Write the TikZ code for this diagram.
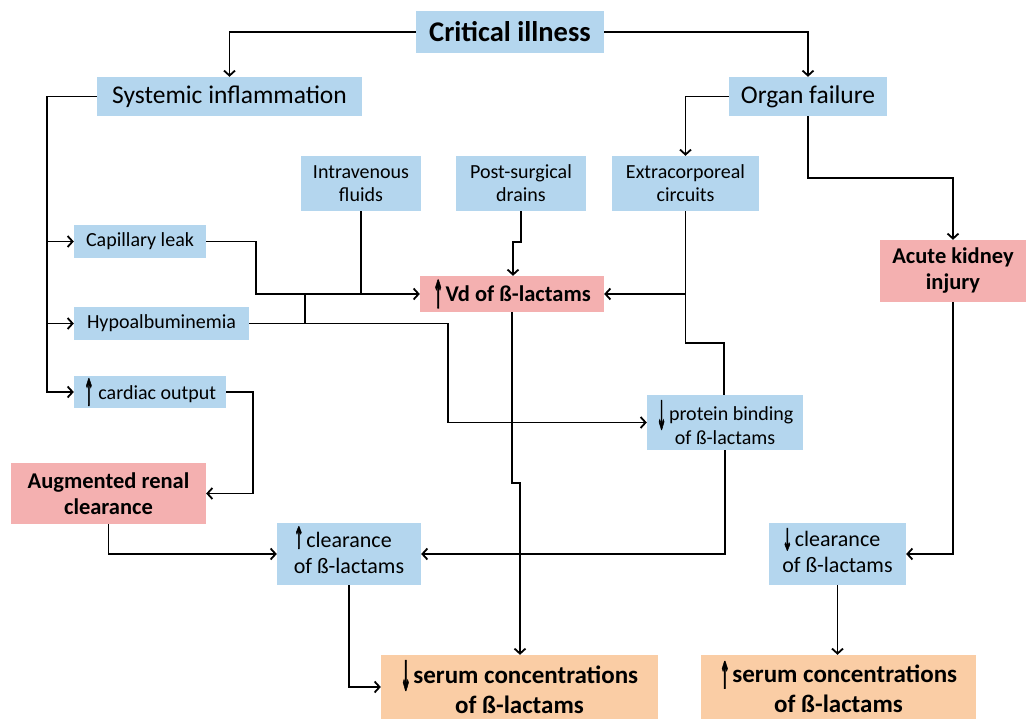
\documentclass[tikz,border=0pt]{standalone}
\usepackage{fontspec}
\usepackage{graphicx}
\setmainfont{Carlito}
\newfontfamily\symfont[FakeBold=3]{DejaVu Sans}
\usetikzlibrary{arrows.meta}
\definecolor{bblue}{RGB}{180,214,238}
\definecolor{bpink}{RGB}{244,176,176}
\definecolor{bpeach}{RGB}{250,205,165}
% vertical arrow glyph: {glyph}{total height}{depth}
\newcommand{\vglyph}[3]{\raisebox{-#3}{\resizebox*{10pt}{#2}{\symfont #1}}\hspace{2.5pt}}
\begin{document}
\begin{tikzpicture}[x=1pt,y=-1pt,
  boxbase/.style={inner sep=0pt, align=center, text=black},
  bl/.style={boxbase, fill=bblue},
  pk/.style={boxbase, fill=bpink},
  pc/.style={boxbase, fill=bpeach},
  fsmall/.style={font=\fontsize{20}{23}\selectfont},
  fmid/.style={font=\fontsize{22}{26}\selectfont},
  fbig/.style={font=\fontsize{25.5}{30}\selectfont},
  fbmid/.style={font=\bfseries\fontsize{22.5}{26}\selectfont},
  fbbig/.style={font=\bfseries\fontsize{25}{30}\selectfont},
  conn/.style={line width=1.8pt},
  arr/.style={conn, -{Straight Barb[length=5pt,width=11pt]}}
]
\useasboundingbox (0,0) rectangle (1029,719);
% nodes
\node[bl, font=\bfseries\fontsize{28.5}{32}\selectfont, minimum width=188pt, minimum height=42pt] (crit) at (510,32) {Critical illness};
\node[bl, fbig, minimum width=265pt, minimum height=39pt] (sys) at (229.5,96.5) {Systemic inflammation};
\node[bl, fbig, minimum width=158pt, minimum height=39pt] (org) at (808,96.5) {Organ failure};
\node[bl, fsmall, minimum width=120pt, minimum height=55pt] (iv) at (361,183.5) {Intravenous\\fluids};
\node[bl, fsmall, minimum width=130pt, minimum height=55pt] (psd) at (521,183.5) {Post-surgical\\drains};
\node[bl, fsmall, minimum width=147pt, minimum height=55pt] (ecc) at (685.5,183.5) {Extracorporeal\\circuits};
\node[pk, fbmid, minimum width=146pt, minimum height=62pt] (aki) at (953,271) {Acute kidney\\injury};
\node[bl, fsmall, minimum width=132pt, minimum height=33pt] (cap) at (140,241.5) {Capillary leak};
\node[bl, fsmall, minimum width=175pt, minimum height=33pt] (hypo) at (161.5,323.5) {Hypoalbuminemia};
\node[bl, fsmall, minimum width=152pt, minimum height=32pt] (co) at (150,392) {\vglyph{↑}{27pt}{6pt}\hspace{2pt}cardiac output};
\node[pk, fbmid, minimum width=184pt, minimum height=36pt] (vd) at (512,294) {\vglyph{↑}{28pt}{6pt}Vd of ß-lactams};
\node[bl, fsmall, minimum width=156pt, minimum height=55pt] (pb) at (725,422.5) {\vglyph{↓}{29pt}{9pt}protein binding\\of ß-lactams};
\node[pk, fbmid, minimum width=195pt, minimum height=61pt] (arc) at (108.5,493.5) {Augmented renal\\clearance};
\node[bl, fmid, minimum width=144pt, minimum height=62pt] (upcl) at (349,554) {\begin{tabular}{@{}l@{}}\vglyph{↑}{22pt}{1pt}clearance\\of ß-lactams\end{tabular}};
\node[bl, fmid, minimum width=137pt, minimum height=62pt] (dncl) at (837.5,554) {\begin{tabular}{@{}l@{}}\vglyph{↓}{22pt}{4pt}clearance\\of ß-lactams\end{tabular}};
\node[pc, fbbig, minimum width=277pt, minimum height=64pt] (dnser) at (519.5,687) {\vglyph{↓}{30pt}{7pt}serum concentrations\\of ß-lactams};
\node[pc, fbbig, minimum width=275pt, minimum height=64pt] (upser) at (838.5,687) {\vglyph{↑}{27pt}{6pt}serum concentrations\\of ß-lactams};
% helper coordinates
\coordinate (L) at (47,0);
\coordinate (capj) at (256,294);
\coordinate (hypj) at (305,294);
\coordinate (pbx) at (448,0);
\coordinate (psdj) at (513,242);
\coordinate (eccj) at (724,343);
\coordinate (vdj) at (520,483);
\coordinate (coj) at (253,0);
% connectors
\draw[arr] (crit.west) -| (sys.north);
\draw[arr] (crit.east) -| (org.north);
\draw[arr] (sys.west) -| (L |- co.west) -- (co.west);
\draw[arr] (L |- cap.west) -- (cap.west);
\draw[arr] (L |- hypo.west) -- (hypo.west);
\draw[arr] (org.west) -| (ecc.north);
\draw[arr] (org.south) -- ++(0,62) -| (aki.north);
\draw[arr] (cap.east) -| (capj) -- (vd.west);
\draw[conn] (iv.south) -- (iv.south |- vd.west);
\draw[conn] (hypo.east) -| (hypj);
\draw[arr] (hypo.east) -| (pbx |- pb.west) -- (pb.west);
\draw[arr] (psd.south) |- (psdj) -- (psdj |- vd.north);
\draw[conn] (ecc.south) |- (eccj) -- (eccj |- pb.north);
\draw[arr] (ecc.south |- vd.east) -- (vd.east);
\draw[arr] (pb.south) |- (upcl.east);
\draw[arr] (vd.south) |- (vdj) -- (vdj |- dnser.north);
\draw[arr] (co.east) -| (coj |- arc.east) -- (arc.east);
\draw[arr] (arc.south) |- (upcl.west);
\draw[arr] (upcl.south) |- (dnser.west);
\draw[arr] (aki.south) |- (dncl.east);
\draw[arr] (dncl.south) -- (dncl.south |- upser.north);
\end{tikzpicture}
\end{document}
